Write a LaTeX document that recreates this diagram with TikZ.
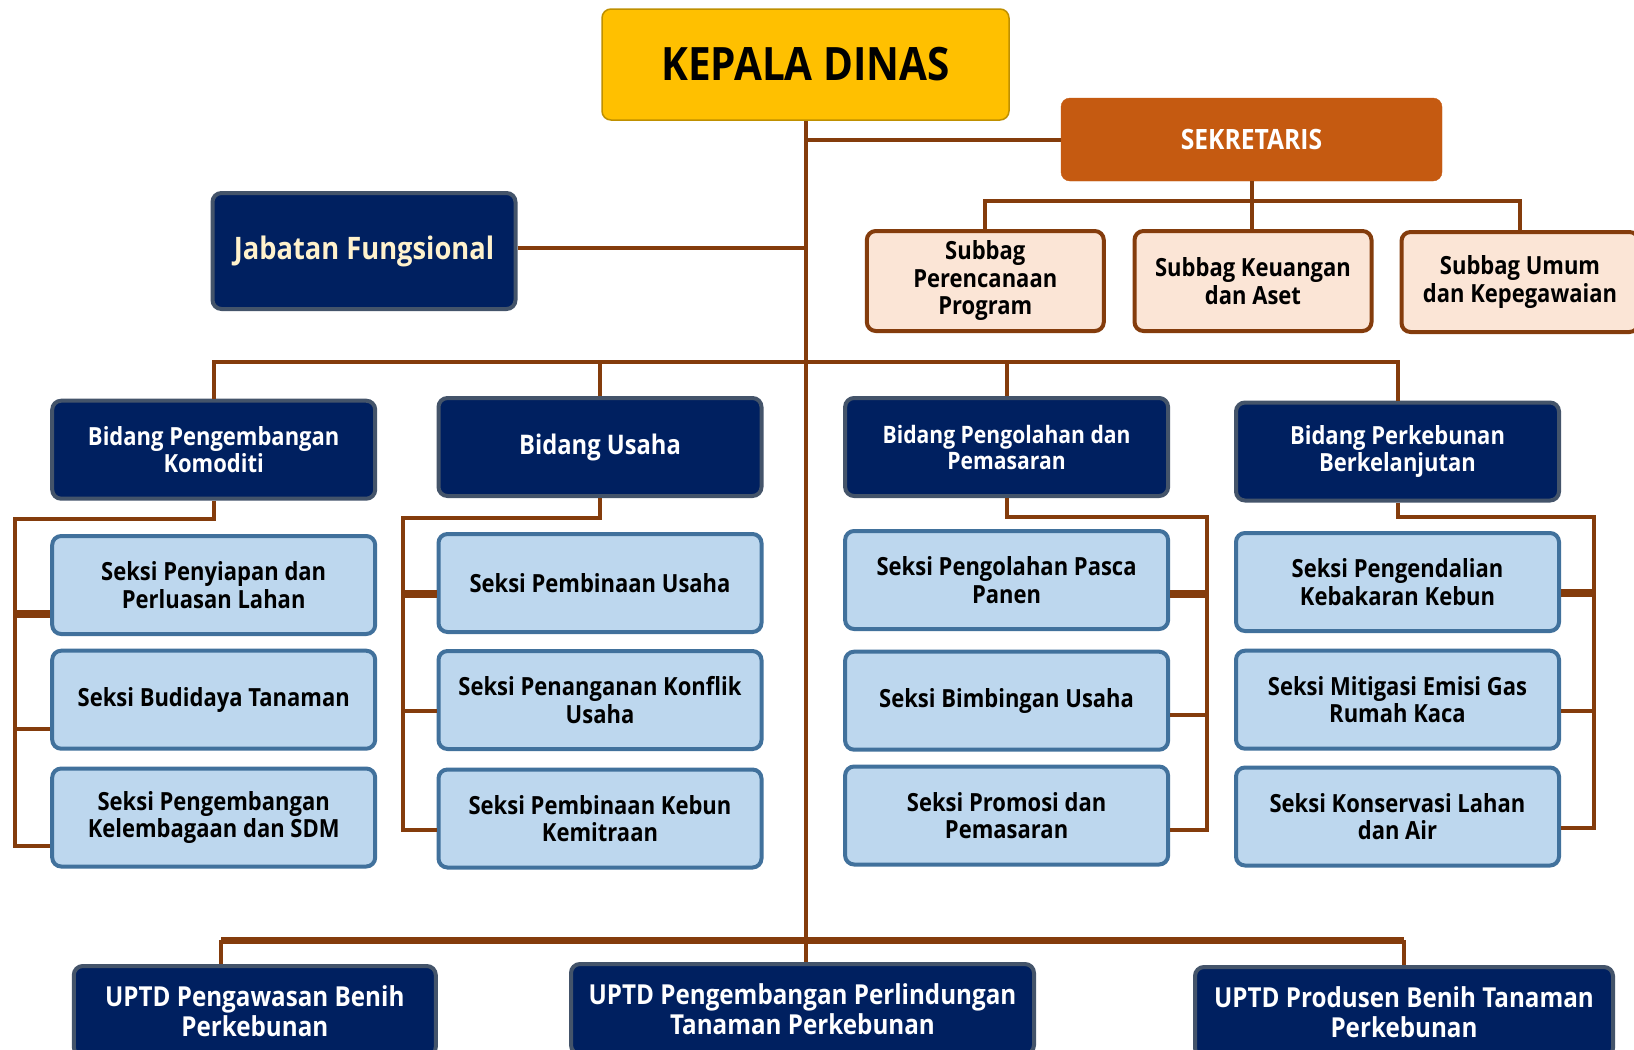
\documentclass[tikz,border=0pt]{standalone}
\usepackage{fontspec}
\setmainfont{Open Sans}[FakeStretch=0.88]
\definecolor{coklat}{HTML}{843C0C}
\definecolor{kuning}{HTML}{FFC000}
\definecolor{kuningtua}{HTML}{BF9000}
\definecolor{oranye}{HTML}{C55A11}
\definecolor{navy}{HTML}{002060}
\definecolor{abubiru}{HTML}{44546A}
\definecolor{peach}{HTML}{FBE5D6}
\definecolor{birumuda}{HTML}{BDD7EE}
\definecolor{birugaris}{HTML}{41719C}
\definecolor{krem}{HTML}{FFF2CC}
\tikzset{
  kotak/.style={rounded corners=9pt, align=center, inner sep=0pt},
  kepala/.style={kotak, fill=kuning, draw=kuningtua, line width=1.5pt},
  sekre/.style={kotak, fill=oranye, draw=oranye, text=white},
  gelap/.style={kotak, fill=navy, draw=abubiru, line width=4pt, text=white},
  bidang/.style={gelap, minimum width=323pt, minimum height=98pt},
  subbag/.style={kotak, fill=peach, draw=coklat, line width=4pt, minimum width=237pt, minimum height=100pt},
  seksi/.style={kotak, fill=birumuda, draw=birugaris, line width=4pt, minimum width=323pt, minimum height=98pt},
  garis/.style={draw=coklat, line width=4pt},
  tebal/.style={draw=coklat, line width=8pt}
}
\newcommand{\hurufa}{\fontsize{25}{27.5}\selectfont\bfseries}
\newcommand{\hurufb}{\fontsize{27.5}{30}\selectfont\bfseries}
\begin{document}
\begin{tikzpicture}[x=1pt,y=-1pt]
\useasboundingbox (0,0) rectangle (1634,1050);
\clip (0,0) rectangle (1634,1050);
\fill[white] (0,0) rectangle (1634,1050);

\node[kepala, minimum width=407pt, minimum height=111pt, font=\fontsize{46}{50}\selectfont\bfseries] (kd) at (805.5,64.5) {KEPALA DINAS};
\node[sekre, minimum width=381pt, minimum height=83pt, font=\fontsize{28}{30}\selectfont\bfseries] (sek) at (1251.5,139.5) {SEKRETARIS};
\node[gelap, text=krem, minimum width=303pt, minimum height=116pt, font=\fontsize{31}{34}\selectfont\bfseries] (jf) at (364,251) {Jabatan Fungsional};

\node[subbag, font=\hurufa] (sb1) at (985.3,281) {Subbag\\Perencanaan\\Program};
\node[subbag, font=\hurufa] (sb2) at (1253,281) {Subbag Keuangan\\dan Aset};
\node[subbag, font=\hurufa] (sb3) at (1520,282) {Subbag Umum\\dan Kepegawaian};

\node[bidang, font=\hurufa] (b1) at (213.7,449.7) {Bidang Pengembangan\\Komoditi};
\node[bidang, font=\fontsize{27}{30}\selectfont\bfseries] (b2) at (600,447) {Bidang Usaha};
\node[bidang, font=\fontsize{24}{26}\selectfont\bfseries] (b3) at (1006.6,447) {Bidang Pengolahan dan\\Pemasaran};
\node[bidang, font=\hurufa] (b4) at (1397.5,451.5) {Bidang Perkebunan\\Berkelanjutan};

\node[seksi, font=\hurufa] (s11) at (213.7,585) {Seksi Penyiapan dan\\Perluasan Lahan};
\node[seksi, font=\hurufa] (s12) at (213.7,699.7) {Seksi Budidaya Tanaman};
\node[seksi, font=\hurufa] (s13) at (213.7,817.5) {Seksi Pengembangan\\Kelembagaan dan SDM};

\node[seksi, font=\hurufa] (s21) at (600,583) {Seksi Pembinaan Usaha};
\node[seksi, font=\hurufa] (s22) at (600,700) {Seksi Penanganan Konflik\\Usaha};
\node[seksi, font=\hurufa] (s23) at (600,818.5) {Seksi Pembinaan Kebun\\Kemitraan};

\node[seksi, font=\hurufa] (s31) at (1006.6,580) {Seksi Pengolahan Pasca\\Panen};
\node[seksi, font=\hurufa] (s32) at (1006.6,700.7) {Seksi Bimbingan Usaha};
\node[seksi, font=\hurufa] (s33) at (1006.6,815.5) {Seksi Promosi dan\\Pemasaran};

\node[seksi, font=\hurufa] (s41) at (1397.5,582) {Seksi Pengendalian\\Kebakaran Kebun};
\node[seksi, font=\hurufa] (s42) at (1397.5,699.7) {Seksi Mitigasi Emisi Gas\\Rumah Kaca};
\node[seksi, font=\hurufa] (s43) at (1397.5,816.5) {Seksi Konservasi Lahan\\dan Air};

\node[gelap, minimum width=362pt, minimum height=90pt, font=\hurufb] (u1) at (254.8,1011) {UPTD Pengawasan Benih\\Perkebunan};
\node[gelap, minimum width=463pt, minimum height=90pt, font=\hurufb] (u2) at (802.5,1009) {UPTD Pengembangan Perlindungan\\Tanaman Perkebunan};
\node[gelap, minimum width=418pt, minimum height=90pt, font=\hurufb] (u3) at (1404,1012) {UPTD Produsen Benih Tanaman\\Perkebunan};

\coordinate (busS) at (0,201);
\coordinate (busB) at (0,361.6);
\coordinate (k1) at (14.6,519);
\coordinate (k2) at (403.3,518);
\coordinate (k3) at (1206.8,517);
\coordinate (k4) at (1594.4,517);
\coordinate (ujung) at (221,940);

\draw[garis] (kd.south) -- (kd.south |- u2.north);
\draw[garis] (kd.south |- sek.west) -- (sek.west);
\draw[garis] (jf.west -| jf.east) ++(0,-3) coordinate (jfk) -- (jfk -| kd.south);

\draw[garis] (sek.south) -- (sek.south |- sb2.north);
\draw[garis] (sb1.north) -- (sb1.north |- busS) -- (sb3.north |- busS) -- (sb3.north);

\draw[garis] (b1.north) -- (b1.north |- busB) -- (b4.north |- busB) -- (b4.north);
\draw[garis] (b2.north) -- (b2.north |- busB);
\draw[garis] (b3.north) -- (b3.north |- busB);

\draw[garis] (b1.south) |- (k1) -- (k1 |- s13.190) -- (s13.190);
\draw[garis] (k1 |- s12.190) -- (s12.190);
\draw[tebal] (k1 |- s11.190) -- (s11.190);

\draw[garis] (b2.south) |- (k2) -- (k2 |- s23.184) -- (s23.184);
\draw[garis] (k2 |- s22.184) -- (s22.184);
\draw[tebal] (k2 |- s21.184) -- (s21.184);

\draw[garis] (b3.south) |- (k3) -- (k3 |- s33.-5) -- (s33.-5);
\draw[garis] (k3 |- s32.-5) -- (s32.-5);
\draw[tebal] (k3 |- s31.-5) -- (s31.-5);

\draw[garis] (b4.south) |- (k4) -- (k4 |- s43.-4) -- (s43.-4);
\draw[garis] (k4 |- s42.-4) -- (s42.-4);
\draw[tebal] (k4 |- s41.-4) -- (s41.-4);

\draw[garis, line width=7pt] (ujung) -- (u3.north |- ujung);
\draw[garis] (ujung) -- (ujung |- u1.north);
\draw[garis] (u3.north |- ujung) -- (u3.north);
\end{tikzpicture}
\end{document}
